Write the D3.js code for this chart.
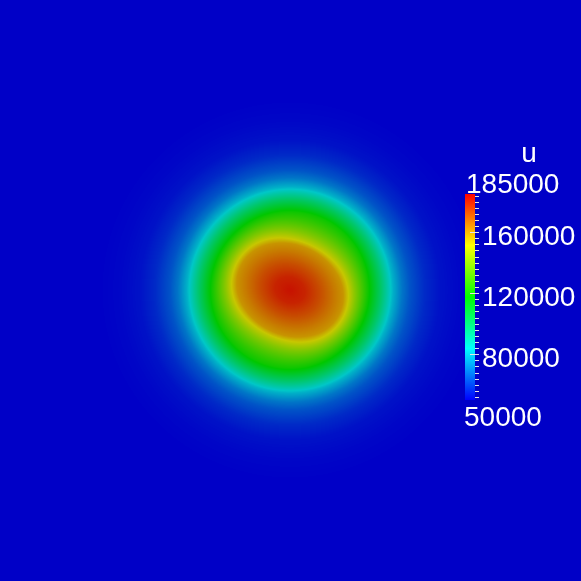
<!DOCTYPE html>
<html>
<head>
<meta charset="utf-8">
<script src="https://cdn.jsdelivr.net/npm/d3@7"></script>
<style>
  html, body { margin: 0; padding: 0; background: #0000c7; overflow: hidden; }
  #wrap { position: relative; width: 581px; height: 581px; }
  #wrap canvas, #wrap svg { position: absolute; left: 0; top: 0; }
</style>
</head>
<body>
<div id="wrap"></div>
<script>
// field profile: distance from the centre (model units) -> u
var profileR = [0, 0.15, 0.30, 0.45, 0.53, 0.65, 0.78, 0.91, 1.03, 1.12, 1.20, 1.35, 1.50, 1.70, 1.90];
var profileU = [182000, 179000, 172000, 164000, 160000, 140000, 120000, 100000, 80000, 70000, 64000, 57000, 53000, 51000, 50000];

// inner core is a tilted ellipse (semi axes in model units, angle in degrees)
var coreAxes = [0.55, 0.45];
var coreAngle = 25;

// colour legend
var uRange = [50000, 185000];
var majorTicks = [160000, 120000, 80000];
var minorTicks = d3.range(52000, 185000, 4000);
var legendTitle = "u";

var W = 581, H = 581;
var shade = 0.78; // lighting darkens the surface

// model space -> pixels
var x = d3.scaleLinear().domain([-2.9, 2.91]).range([0, W]);
var y = d3.scaleLinear().domain([-2.9, 2.91]).range([0, H]);

var uOfR = d3.scaleLinear().domain(profileR).range(profileU).clamp(true);

var color = d3.scaleLinear()
  .domain(uRange)
  .range([d3.hsl(240, 1, 0.5), d3.hsl(0, 1, 0.5)])
  .interpolate(d3.interpolateHslLong)
  .clamp(true);

// lookup table so the pixel loop stays cheap
var lut = d3.range(512).map(function(i) {
  var c = d3.rgb(color(uRange[0] + (uRange[1] - uRange[0]) * i / 511));
  return [c.r * shade, c.g * shade, c.b * shade];
});

var wrap = d3.select("#wrap");
var canvas = wrap.append("canvas").attr("width", W).attr("height", H);
var ctx = canvas.node().getContext("2d");
var img = ctx.createImageData(W, H);

var ca = Math.cos(coreAngle * Math.PI / 180), sa = Math.sin(coreAngle * Math.PI / 180);
var edge = 0.53; // radius where the core ellipse meets u = 160000

for (var j = 0; j < H; j++) {
  var my = y.invert(j + 0.5);
  for (var i = 0; i < W; i++) {
    var mx = x.invert(i + 0.5);
    var r = Math.sqrt(mx * mx + my * my);
    var px = mx * ca + my * sa, py = -mx * sa + my * ca;
    var q = edge * Math.sqrt((px / coreAxes[0]) * (px / coreAxes[0]) + (py / coreAxes[1]) * (py / coreAxes[1]));
    var s = Math.max(0, Math.min(1, (r - 0.5) / 0.28));
    var rho = q * (1 - s) + r * s;
    var u = uOfR(rho);
    var k = Math.round((u - uRange[0]) / (uRange[1] - uRange[0]) * 511);
    k = Math.max(0, Math.min(511, k));
    var c = lut[k], o = (j * W + i) * 4;
    img.data[o] = c[0]; img.data[o + 1] = c[1]; img.data[o + 2] = c[2]; img.data[o + 3] = 255;
  }
}
ctx.putImageData(img, 0, 0);

// legend
var svg = wrap.append("svg").attr("width", W).attr("height", H);

var barX = 465, barW = 10;
var ly = d3.scaleLinear().domain(uRange).range([400, 194]);

var grad = svg.append("defs").append("linearGradient")
  .attr("id", "bar").attr("x1", 0).attr("y1", 1).attr("x2", 0).attr("y2", 0);
grad.selectAll("stop")
  .data(d3.range(0, 1.0001, 0.05))
  .enter().append("stop")
  .attr("offset", function(d) { return d; })
  .attr("stop-color", function(d) { return color(uRange[0] + d * (uRange[1] - uRange[0])); });

svg.append("rect")
  .attr("x", barX).attr("y", ly(uRange[1]))
  .attr("width", barW).attr("height", ly(uRange[0]) - ly(uRange[1]))
  .attr("fill", "url(#bar)");

svg.selectAll(".minor")
  .data(minorTicks)
  .enter().append("line")
  .attr("x1", barX + barW).attr("x2", barX + barW + 4)
  .attr("y1", function(d) { return Math.round(ly(d)) + 0.5; })
  .attr("y2", function(d) { return Math.round(ly(d)) + 0.5; })
  .attr("stroke", "#e6e6e6").attr("stroke-width", 1);

svg.selectAll(".major")
  .data(majorTicks)
  .enter().append("line")
  .attr("x1", barX + 5).attr("x2", barX + barW + 4)
  .attr("y1", function(d) { return Math.round(ly(d)) + 0.5; })
  .attr("y2", function(d) { return Math.round(ly(d)) + 0.5; })
  .attr("stroke", "#e6e6e6").attr("stroke-width", 1);

var font = "'Liberation Sans', Arial, sans-serif";

svg.selectAll(".lab")
  .data(majorTicks)
  .enter().append("text")
  .attr("x", 482)
  .attr("y", function(d) { return ly(d) + 13; })
  .attr("fill", "#fff")
  .style("font-family", font).style("font-size", "28px")
  .text(function(d) { return d; });

svg.append("text")
  .attr("x", barX + 1).attr("y", ly(uRange[1]) - 1)
  .attr("fill", "#fff")
  .style("font-family", font).style("font-size", "28px")
  .text(uRange[1]);

svg.append("text")
  .attr("x", barX - 1).attr("y", ly(uRange[0]) + 26)
  .attr("fill", "#fff")
  .style("font-family", font).style("font-size", "28px")
  .text(uRange[0]);

svg.append("text")
  .attr("x", 529).attr("y", 162)
  .attr("text-anchor", "middle")
  .attr("fill", "#fff")
  .style("font-family", font).style("font-size", "28px")
  .text(legendTitle);
</script>
</body>
</html>
